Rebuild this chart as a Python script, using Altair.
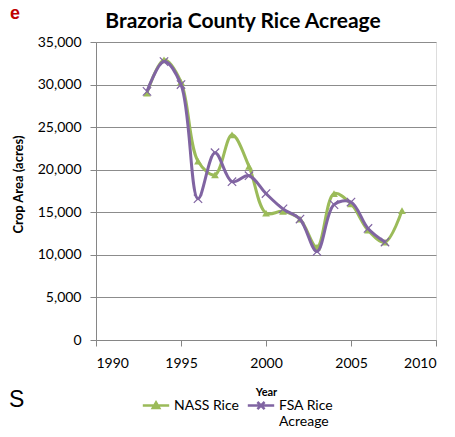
import altair as alt
import pandas as pd

# ---- data ----
nass_years = [1993, 1994, 1995, 1996, 1997, 1998, 1999, 2000, 2001, 2002, 2003, 2004, 2005, 2006, 2007, 2008]
nass_acres = [29000, 32900, 30300, 21000, 19400, 24100, 20400, 14900, 15100, 14200, 10900, 17200, 16000, 12900, 11500, 15200]
fsa_years = [1993, 1994, 1995, 1996, 1997, 1998, 1999, 2000, 2001, 2002, 2003, 2004, 2005, 2006, 2007]
fsa_acres = [29200, 32700, 30000, 16600, 22000, 18600, 19300, 17200, 15400, 14200, 10400, 15900, 16200, 13100, 11500]
series_names = ["NASS Rice", "FSA Rice Acreage"]
series_colors = ["#9BBB59", "#8064A2"]
x_ticks = [1990, 1995, 2000, 2005, 2010]
y_ticks = [0, 5000, 10000, 15000, 20000, 25000, 30000, 35000]
title_text = ["Brazoria County Rice Acreage"]

df = pd.concat([
    pd.DataFrame({"year": nass_years, "acres": nass_acres, "series": series_names[0]}),
    pd.DataFrame({"year": fsa_years, "acres": fsa_acres, "series": series_names[1]}),
], ignore_index=True)

FONT = "Lato"

x_enc = alt.X("year:Q",
              scale=alt.Scale(domain=[1990, 2010], nice=False, zero=False),
              axis=alt.Axis(values=x_ticks, format="d", grid=False, tickSize=6,
                            labelPadding=10, labelFontSize=14, labelFont=FONT, labelColor="#000",
                            domainColor="#868686", tickColor="#868686",
                            title="Year", titleFont=FONT, titleFontSize=11, titleFontWeight="bold",
                            titlePadding=16, titleColor="#000"))
y_enc = alt.Y("acres:Q",
              scale=alt.Scale(domain=[0, 35000], nice=False),
              axis=alt.Axis(values=y_ticks, format=",d", grid=True, gridColor="#8c8c8c", gridWidth=1,
                            tickSize=6, labelPadding=9, labelFontSize=14, labelFont=FONT, labelColor="#000",
                            domainColor="#868686", tickColor="#868686",
                            title="Crop Area (acres)", titleFont=FONT, titleFontSize=13,
                            titleFontWeight="bold", titleColor="#000", titleX=-78, titleY=142,
                            titleAngle=270, titleAlign="center", titleBaseline="middle"))

base = alt.Chart(df)

nass_line = base.transform_filter(alt.datum.series == series_names[0]).mark_line(
    interpolate="catmull-rom", strokeWidth=3, color=series_colors[0]).encode(x=x_enc, y=y_enc)
nass_pts = base.transform_filter(alt.datum.series == series_names[0]).mark_point(
    shape="triangle-up", filled=True, size=60, opacity=1, color=series_colors[0]).encode(x="year:Q", y="acres:Q")
fsa_line = base.transform_filter(alt.datum.series == series_names[1]).mark_line(
    interpolate="catmull-rom", strokeWidth=3, color=series_colors[1]).encode(x="year:Q", y="acres:Q")
fsa_pts = base.transform_filter(alt.datum.series == series_names[1]).mark_point(
    shape="M-1,-1L1,1M1,-1L-1,1", filled=False, size=70, strokeWidth=1.2, opacity=1,
    color=series_colors[1]).encode(x="year:Q", y="acres:Q")

legend_paths = [
    "M-3.3,-1.1H3.3M0,-1.9L0.8,-0.5H-0.8Z",
    "M-3.3,-1.1H3.3M-0.9,-2L0.9,-0.2M0.9,-2L-0.9,-0.2",
]
legend = alt.Legend(title=None, orient="none", legendX=53, legendY=361, direction="horizontal",
                    columns=2, symbolSize=64, symbolStrokeWidth=2.5, labelOffset=11,
                    labelFont=FONT, labelFontSize=14, labelColor="#000", columnPadding=3,
                    labelBaseline="alphabetic",
                    labelExpr="datum.label == 'FSA Rice Acreage' ? ['FSA Rice', 'Acreage'] : [datum.label, '']")
legend_layer = base.transform_filter("false").mark_point(opacity=1).encode(
    shape=alt.Shape("series:N", scale=alt.Scale(domain=series_names, range=legend_paths), legend=legend),
    fill=alt.Fill("series:N", scale=alt.Scale(domain=series_names, range=series_colors), legend=legend),
    stroke=alt.Stroke("series:N", scale=alt.Scale(domain=series_names, range=series_colors), legend=legend),
)

title_layer = alt.Chart(pd.DataFrame({"t": title_text})).mark_text(
    align="center", baseline="alphabetic", font=FONT, fontSize=21, fontWeight="bold", color="#000").encode(
    text="t:N", x=alt.value(147), y=alt.value(-14))

stray = pd.DataFrame({"t": ["e"]})
stray_e = alt.Chart(stray).mark_text(align="left", baseline="alphabetic", font="Arial",
                                     fontSize=18, fontWeight="bold", color="#C00000").encode(
    text="t:N", x=alt.value(-86), y=alt.value(-23))
stray2 = pd.DataFrame({"t": ["S"]})
stray_s = alt.Chart(stray2).mark_text(align="left", baseline="alphabetic", font="Liberation Sans",
                                      fontSize=23, color="#000").encode(
    text="t:N", x=alt.value(-87), y=alt.value(365))

chart = alt.layer(nass_line, nass_pts, fsa_line, fsa_pts, legend_layer, title_layer, stray_e, stray_s).properties(
    width=340, height=298,
    padding={"left": 88, "top": 34, "right": 11, "bottom": 89},
    autosize=alt.AutoSizeParams(type="none"),
).configure_view(stroke=None).configure(background="white")

chart.save("out.html", embed_options={"renderer": "svg", "actions": False})
